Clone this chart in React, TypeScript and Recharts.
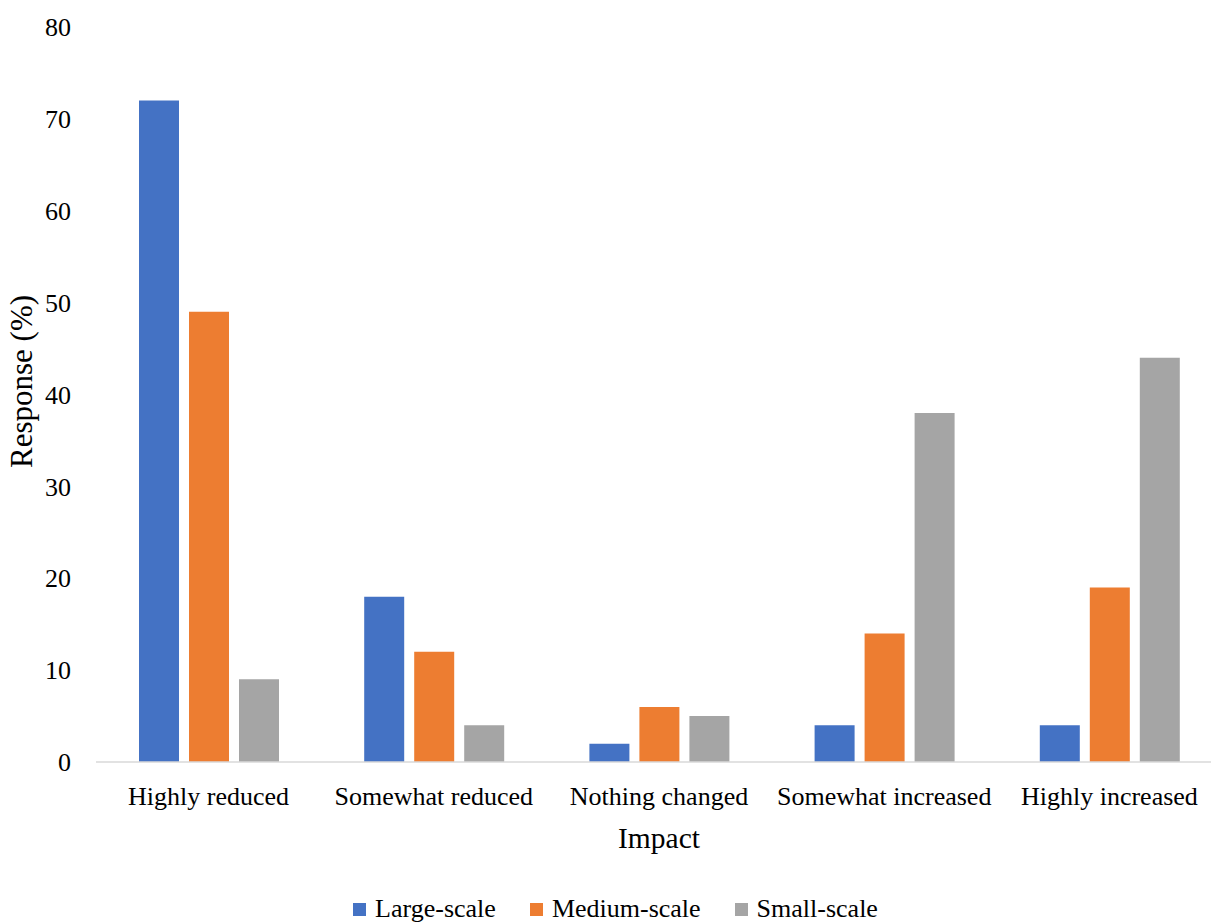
import React from 'react';
import { BarChart, Bar, XAxis, YAxis, Legend, Label } from 'recharts';

const categories = ['Highly reduced', 'Somewhat reduced', 'Nothing changed', 'Somewhat increased', 'Highly increased'];
const largeScale = [72, 18, 2, 4, 4];
const mediumScale = [49, 12, 6, 14, 19];
const smallScale = [9, 4, 5, 38, 44];
const yTicks = [0, 10, 20, 30, 40, 50, 60, 70, 80];
const seriesNames = ['Large-scale', 'Medium-scale', 'Small-scale'];
const seriesColors = ['#4472C4', '#ED7D31', '#A5A5A5'];

const data = categories.map((c, i) => ({
  name: c,
  large: largeScale[i],
  medium: mediumScale[i],
  small: smallScale[i],
}));

const FONT = '"Liberation Serif", "Times New Roman", serif';

const LegendContent = () => (
  <div style={{ display: 'flex', justifyContent: 'center', alignItems: 'center', fontFamily: FONT, fontSize: 26, color: '#000', lineHeight: '26px', height: 26 }}>
    {seriesNames.map((n, i) => (
      <div key={n} style={{ display: 'flex', alignItems: 'center', marginRight: i < seriesNames.length - 1 ? 34 : 0 }}>
        <span style={{ display: 'inline-block', width: 13, height: 13, background: seriesColors[i], marginRight: 9 }} />
        <span>{n}</span>
      </div>
    ))}
  </div>
);

export default function App() {
  return (
    <div style={{ position: 'absolute', left: 0, top: 0, width: 1211, height: 924, overflow: 'hidden', background: '#fff' }}>
      <BarChart
        width={1222}
        height={924}
        data={data}
        margin={{ top: 27, right: 0, bottom: 0, left: 0 }}
        barSize={40}
        barGap={10}
      >
        <XAxis
          dataKey="name"
          axisLine={{ stroke: '#D9D9D9', strokeWidth: 1.5 }}
          tickLine={false}
          tickSize={6}
          tickMargin={19}
          height={162}
          interval={0}
          tick={{ fill: '#000', fontSize: 26, fontFamily: FONT }}
        >
          <Label
            content={({ viewBox }: any) => (
              <text
                x={viewBox.x + viewBox.width / 2}
                y={viewBox.y + 86}
                textAnchor="middle"
                fontFamily={FONT}
                fontSize={29.5}
                fill="#000"
              >
                Impact
              </text>
            )}
          />
        </XAxis>
        <YAxis
          domain={[0, 80]}
          ticks={yTicks}
          width={96}
          axisLine={false}
          tickLine={false}
          tickSize={6}
          tickMargin={19}
          tick={{ fill: '#000', fontSize: 26, fontFamily: FONT }}
        >
          <Label
            content={({ viewBox }: any) => {
              const cx = 32;
              const cy = viewBox.y + viewBox.height / 2 - 13;
              return (
                <text
                  x={cx}
                  y={cy}
                  transform={`rotate(-90 ${cx} ${cy})`}
                  textAnchor="middle"
                  fontFamily={FONT}
                  fontSize={31}
                  fill="#000"
                >
                  Response (%)
                </text>
              );
            }}
          />
        </YAxis>
        <Legend
          verticalAlign="middle"
          align="center"
          content={<LegendContent />}
          wrapperStyle={{ top: 896, left: 10, width: 1211 }}
        />
        <Bar dataKey="large" name={seriesNames[0]} fill={seriesColors[0]} isAnimationActive={false} />
        <Bar dataKey="medium" name={seriesNames[1]} fill={seriesColors[1]} isAnimationActive={false} />
        <Bar dataKey="small" name={seriesNames[2]} fill={seriesColors[2]} isAnimationActive={false} />
      </BarChart>
    </div>
  );
}
